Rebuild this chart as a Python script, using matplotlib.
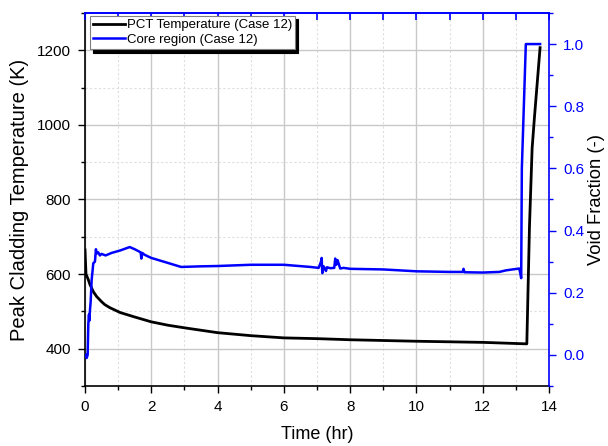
import matplotlib
matplotlib.use("Agg")
import matplotlib.pyplot as plt
from matplotlib.ticker import MultipleLocator

plt.rcParams['font.family'] = ['Liberation Sans', 'DejaVu Sans']

# PCT temperature (K) vs time (hr)
t_pct = [0, 0.03, 0.1, 0.15, 0.25, 0.35, 0.5, 0.6, 0.75, 1.06, 1.5, 2, 2.5, 3, 4, 5,
         6, 7, 8, 10, 12, 13.33, 13.41, 13.49, 13.56, 13.73]
temp_pct = [665, 600, 585, 572, 553, 540, 526, 518, 510, 497, 485, 472, 463, 456, 443,
            435, 429, 427, 424, 420, 417, 413, 727, 937, 1020, 1207]

# core void fraction (-) vs time (hr)
t_void = [0.02, 0.05, 0.08, 0.1, 0.12, 0.13, 0.15, 0.17, 0.2, 0.25, 0.3, 0.33, 0.35,
          0.4, 0.45, 0.5, 0.62, 0.8, 1.06, 1.35, 1.5, 1.68, 1.7, 1.73, 1.8, 2.0, 2.5,
          2.9, 3.5, 4, 5, 6, 6.8, 7.05, 7.12, 7.14, 7.16, 7.2, 7.27, 7.3, 7.4, 7.52,
          7.55, 7.58, 7.62, 7.7, 7.8, 8, 9, 10, 11, 11.4, 11.42, 11.45, 12, 12.5,
          12.7, 13.1, 13.14, 13.16, 13.18, 13.3, 13.73]
void = [0.0, -0.01, 0.0, 0.10, 0.13, 0.11, 0.144, 0.17, 0.24, 0.295, 0.30, 0.34, 0.326,
        0.33, 0.32, 0.325, 0.32, 0.328, 0.336, 0.347, 0.34, 0.33, 0.31, 0.328, 0.322,
        0.312, 0.296, 0.283, 0.285, 0.286, 0.29, 0.29, 0.283, 0.28, 0.30, 0.312, 0.263,
        0.285, 0.27, 0.282, 0.279, 0.28, 0.31, 0.29, 0.305, 0.278, 0.28, 0.277, 0.275,
        0.269, 0.267, 0.267, 0.277, 0.266, 0.265, 0.267, 0.272, 0.278, 0.26, 0.247,
        0.6, 1.0, 1.0]

fig = plt.figure(figsize=(6.08, 4.46), dpi=100)
ax = fig.add_axes([0.1398, 0.1345, 0.7632, 0.8364])
ax2 = ax.twinx()

l1, = ax.plot(t_pct, temp_pct, color='black', lw=2.0, label='PCT Temperature (Case 12)')
l2, = ax2.plot(t_void, void, color='blue', lw=1.8, label='Core region (Case 12)')

ax.set_xlim(0, 14)
ax.set_ylim(300, 1300)
ax2.set_ylim(-0.1, 1.1)

ax.xaxis.set_major_locator(MultipleLocator(2))
ax.xaxis.set_minor_locator(MultipleLocator(1))
ax.yaxis.set_major_locator(MultipleLocator(200))
ax.yaxis.set_minor_locator(MultipleLocator(100))
ax2.yaxis.set_major_locator(MultipleLocator(0.2))
ax2.yaxis.set_minor_locator(MultipleLocator(0.1))
ax2.yaxis.set_major_formatter(lambda v, p: f'{v:.1f}')

ax.grid(which='major', color='#c8c8c8', lw=1.0, ls='-')
ax.grid(which='minor', color='#dedede', lw=0.8, ls=(0, (2, 2)))
ax.set_axisbelow(True)

ax.tick_params(which='major', direction='out', length=5, width=1, labelsize=11, pad=5)
ax.tick_params(which='minor', direction='out', length=3, width=1)
ax2.tick_params(which='major', direction='out', length=5, width=1, labelsize=11,
                colors='blue', pad=5)
ax2.tick_params(which='minor', direction='out', length=3, width=1, colors='blue')

for s in ['left', 'bottom']:
    ax.spines[s].set_linewidth(1.2)
ax2.spines['right'].set_color('blue')
ax2.spines['right'].set_linewidth(1.2)
ax2.spines['top'].set_color('blue')
ax2.spines['top'].set_linewidth(1.2)
ax.spines['top'].set_visible(False)
ax.spines['right'].set_visible(False)
ax2.spines['left'].set_visible(False)
ax2.spines['bottom'].set_visible(False)

top = ax.secondary_xaxis('top')
top.set_zorder(5)
top.xaxis.set_major_locator(MultipleLocator(1))
top.tick_params(direction='in', length=5, width=1.2, colors='blue', labeltop=False)
top.spines['top'].set_color('blue')
top.spines['top'].set_linewidth(1.2)

ax.set_xlabel('Time (hr)', fontsize=13, labelpad=9)
ax.set_ylabel('Peak Cladding Temperature (K)', fontsize=14.5, labelpad=6)
ax2.set_ylabel('Void Fraction (-)', fontsize=13.2, labelpad=3)

leg = ax.legend(handles=[l1, l2], loc='upper left', bbox_to_anchor=(0.01, 0.993),
                fontsize=9.5, fancybox=False, framealpha=1, edgecolor='#808080',
                handlelength=2.4, handletextpad=0.15, borderpad=0.25, labelspacing=0.2,
                borderaxespad=0,
                shadow={'ox': 2.2, 'oy': -2.5, 'facecolor': 'black', 'edgecolor': 'black',
                        'alpha': 1})
leg.get_frame().set_linewidth(0.8)
leg.set_zorder(10)

fig.savefig('out.png', dpi=100)
